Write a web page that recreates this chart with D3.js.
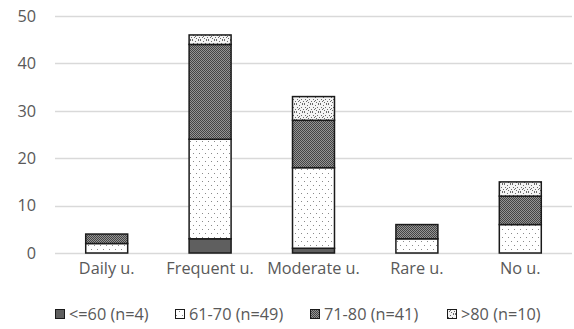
<!DOCTYPE html>
<html>
<head>
<meta charset="utf-8">
<script src="https://cdn.jsdelivr.net/npm/d3@7"></script>
<style>
  html, body { margin: 0; padding: 0; background: #fff; }
  svg { display: block; }
  text { font-family: "Open Sans", Lato, sans-serif; fill: #595959; }
</style>
</head>
<body>
<svg id="chart" width="574" height="329"></svg>
<script>
// Usage groups and age bands
const categories = ["Daily u.", "Frequent u.", "Moderate u.", "Rare u.", "No u."];
const seriesNames = ["<=60 (n=4)", "61-70 (n=49)", "71-80 (n=41)", ">80 (n=10)"];
const age60 = [0, 3, 1, 0, 0];
const age61to70 = [2, 21, 17, 3, 6];
const age71to80 = [2, 20, 10, 3, 6];
const age80plus = [0, 2, 5, 0, 3];
const yTicks = [0, 10, 20, 30, 40, 50];

const seriesKeys = ["s0", "s1", "s2", "s3"];
const seriesValues = [age60, age61to70, age71to80, age80plus];
const rows = categories.map((c, i) => {
  const r = { cat: c };
  seriesKeys.forEach((k, j) => { r[k] = seriesValues[j][i]; });
  return r;
});

const FONT = "'Open Sans', Lato, sans-serif";
const FS = 16.3;

const svg = d3.select("#chart");
const margin = { left: 55, right: 2, top: 16, bottom: 76 };
const W = 574, H = 329;

const x = d3.scaleBand().domain(categories)
  .range([margin.left, W - margin.right]).paddingInner(0.594).paddingOuter(0.297);
const y = d3.scaleLinear().domain([0, 50]).range([H - margin.bottom, margin.top]);

// Fill patterns
const defs = svg.append("defs");
// sparse dots on white
const p1 = defs.append("pattern").attr("id", "pDots").attr("patternUnits", "userSpaceOnUse")
  .attr("width", 6).attr("height", 8);
p1.append("rect").attr("width", 6).attr("height", 8).attr("fill", "#fff");
p1.append("rect").attr("x", 1).attr("y", 1).attr("width", 1).attr("height", 1).attr("fill", "#8a8a8a");
p1.append("rect").attr("x", 4).attr("y", 5).attr("width", 1).attr("height", 1).attr("fill", "#8a8a8a");
// dense checker, dark
const p2 = defs.append("pattern").attr("id", "pCheck").attr("patternUnits", "userSpaceOnUse")
  .attr("width", 2).attr("height", 2);
p2.append("rect").attr("width", 2).attr("height", 2).attr("fill", "#959595");
p2.append("rect").attr("x", 0).attr("y", 0).attr("width", 1).attr("height", 1).attr("fill", "#444");
p2.append("rect").attr("x", 1).attr("y", 1).attr("width", 1).attr("height", 1).attr("fill", "#444");
// speckled light
const p3 = defs.append("pattern").attr("id", "pSpeck").attr("patternUnits", "userSpaceOnUse")
  .attr("width", 8).attr("height", 8);
p3.append("rect").attr("width", 8).attr("height", 8).attr("fill", "#f4f4f4");
[[0,0],[3,1],[6,0],[1,3],[5,3],[7,5],[2,5],[4,6],[0,7],[6,7],[3,4]].forEach(([a, b]) => {
  p3.append("rect").attr("x", a).attr("y", b).attr("width", 1).attr("height", 1).attr("fill", "#6a6a6a");
});

const fills = ["#5f5f5f", "url(#pDots)", "url(#pCheck)", "url(#pSpeck)"];

// Gridlines
svg.append("g").selectAll("line").data(yTicks).join("line")
  .attr("x1", margin.left).attr("x2", W - margin.right)
  .attr("y1", d => Math.round(y(d)) + 0.5).attr("y2", d => Math.round(y(d)) + 0.5)
  .attr("stroke", "#d9d9d9").attr("stroke-width", 1.3);

// Y axis labels
const yAxis = d3.axisLeft(y).tickValues(yTicks).tickSize(0).tickPadding(19);
const gy = svg.append("g").attr("transform", `translate(${margin.left},0)`).call(yAxis);
gy.select(".domain").remove();
gy.selectAll("text").attr("font-size", FS).style("font-family", FONT).attr("fill", "#595959");

// Stacked bars
const stack = d3.stack().keys(seriesKeys)(rows);
const g = svg.append("g");
stack.forEach((layer, li) => {
  g.append("g").selectAll("rect").data(layer.filter(d => d[1] > d[0])).join("rect")
    .attr("x", d => x(d.data.cat))
    .attr("width", x.bandwidth())
    .attr("y", d => y(d[1]))
    .attr("height", d => y(d[0]) - y(d[1]))
    .attr("fill", fills[li])
    .attr("stroke", "#1a1a1a").attr("stroke-width", 1.5);
});

// Category axis
const xAxis = d3.axisBottom(x).tickSize(0).tickPadding(9);
const gx = svg.append("g").attr("transform", `translate(0,${y(0)})`).call(xAxis);
gx.select(".domain").remove();
gx.selectAll("text").attr("font-size", FS).style("font-family", FONT).attr("fill", "#595959");

// Legend
const legendX = [55, 175, 310, 447];
const lg = svg.append("g").attr("transform", "translate(0,314)");
seriesNames.forEach((name, i) => {
  const it = lg.append("g").attr("transform", `translate(${legendX[i]},0)`);
  it.append("rect").attr("x", 0.5).attr("y", -4.5).attr("width", 9).attr("height", 9)
    .attr("fill", fills[i]).attr("stroke", "#1a1a1a").attr("stroke-width", 1);
  it.append("text").attr("x", 14).attr("y", 0).attr("dy", "0.35em")
    .attr("font-size", FS).style("font-family", FONT).text(name);
});
</script>
</body>
</html>
